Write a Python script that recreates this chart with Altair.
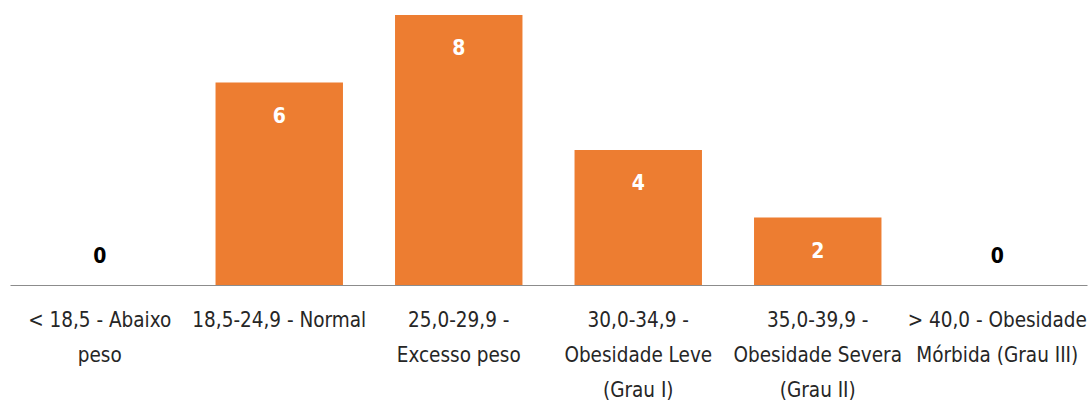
import altair as alt
import pandas as pd

categories = [
    "< 18,5 - Abaixo|peso",
    "18,5-24,9 - Normal",
    "25,0-29,9 -|Excesso peso",
    "30,0-34,9 -|Obesidade Leve|(Grau I)",
    "35,0-39,9 -|Obesidade Severa|(Grau II)",
    "> 40,0 - Obesidade|Mórbida (Grau III)",
]
values = [0, 6, 8, 4, 2, 0]

df = pd.DataFrame({"cat": categories, "val": values})

FONT = "'DejaVu Sans Condensed', 'Liberation Sans', sans-serif"

x = alt.X(
    "cat:N",
    sort=categories,
    title=None,
    scale=alt.Scale(paddingInner=0.29, paddingOuter=0.145),
    axis=alt.Axis(
        labelExpr="split(datum.label, '|')",
        labelAngle=0,
        labelFont=FONT,
        labelFontSize=20.5,
        labelColor="#262626",
        labelLineHeight=35,
        labelPadding=25,
        labelBaseline="top",
        labelLimit=300,
        ticks=False,
        grid=False,
        domainColor="#8c8c8c",
        domainWidth=1.2,
    ),
)
y = alt.Y("val:Q", scale=alt.Scale(domain=[0, 8], nice=False), axis=None)

bars = alt.Chart(df).mark_bar(color="#ED7D31", strokeWidth=0).encode(x=x, y=y)

lab_in = (
    alt.Chart(df)
    .transform_filter("datum.val > 0")
    .mark_text(font=FONT, fontSize=21, fontWeight="bold", color="white", dy=34, baseline="middle")
    .encode(x=x, y=y, text="val:Q")
)
lab_zero = (
    alt.Chart(df)
    .transform_filter("datum.val == 0")
    .mark_text(font=FONT, fontSize=21, fontWeight="bold", color="black", dy=-28, baseline="middle")
    .encode(x=x, y=y, text="val:Q")
)

chart = (
    alt.layer(bars, lab_in, lab_zero)
    .properties(
        width=1077,
        height=270,
        padding={"left": 10, "top": 15, "right": 3, "bottom": 5},
        view=alt.ViewBackground(strokeOpacity=0, strokeWidth=0, fill="white"),
    )
    .configure_view(strokeOpacity=0, strokeWidth=0)
    .configure(background="white")
)

chart.save("out.html", embed_options={"renderer": "svg", "actions": False})
